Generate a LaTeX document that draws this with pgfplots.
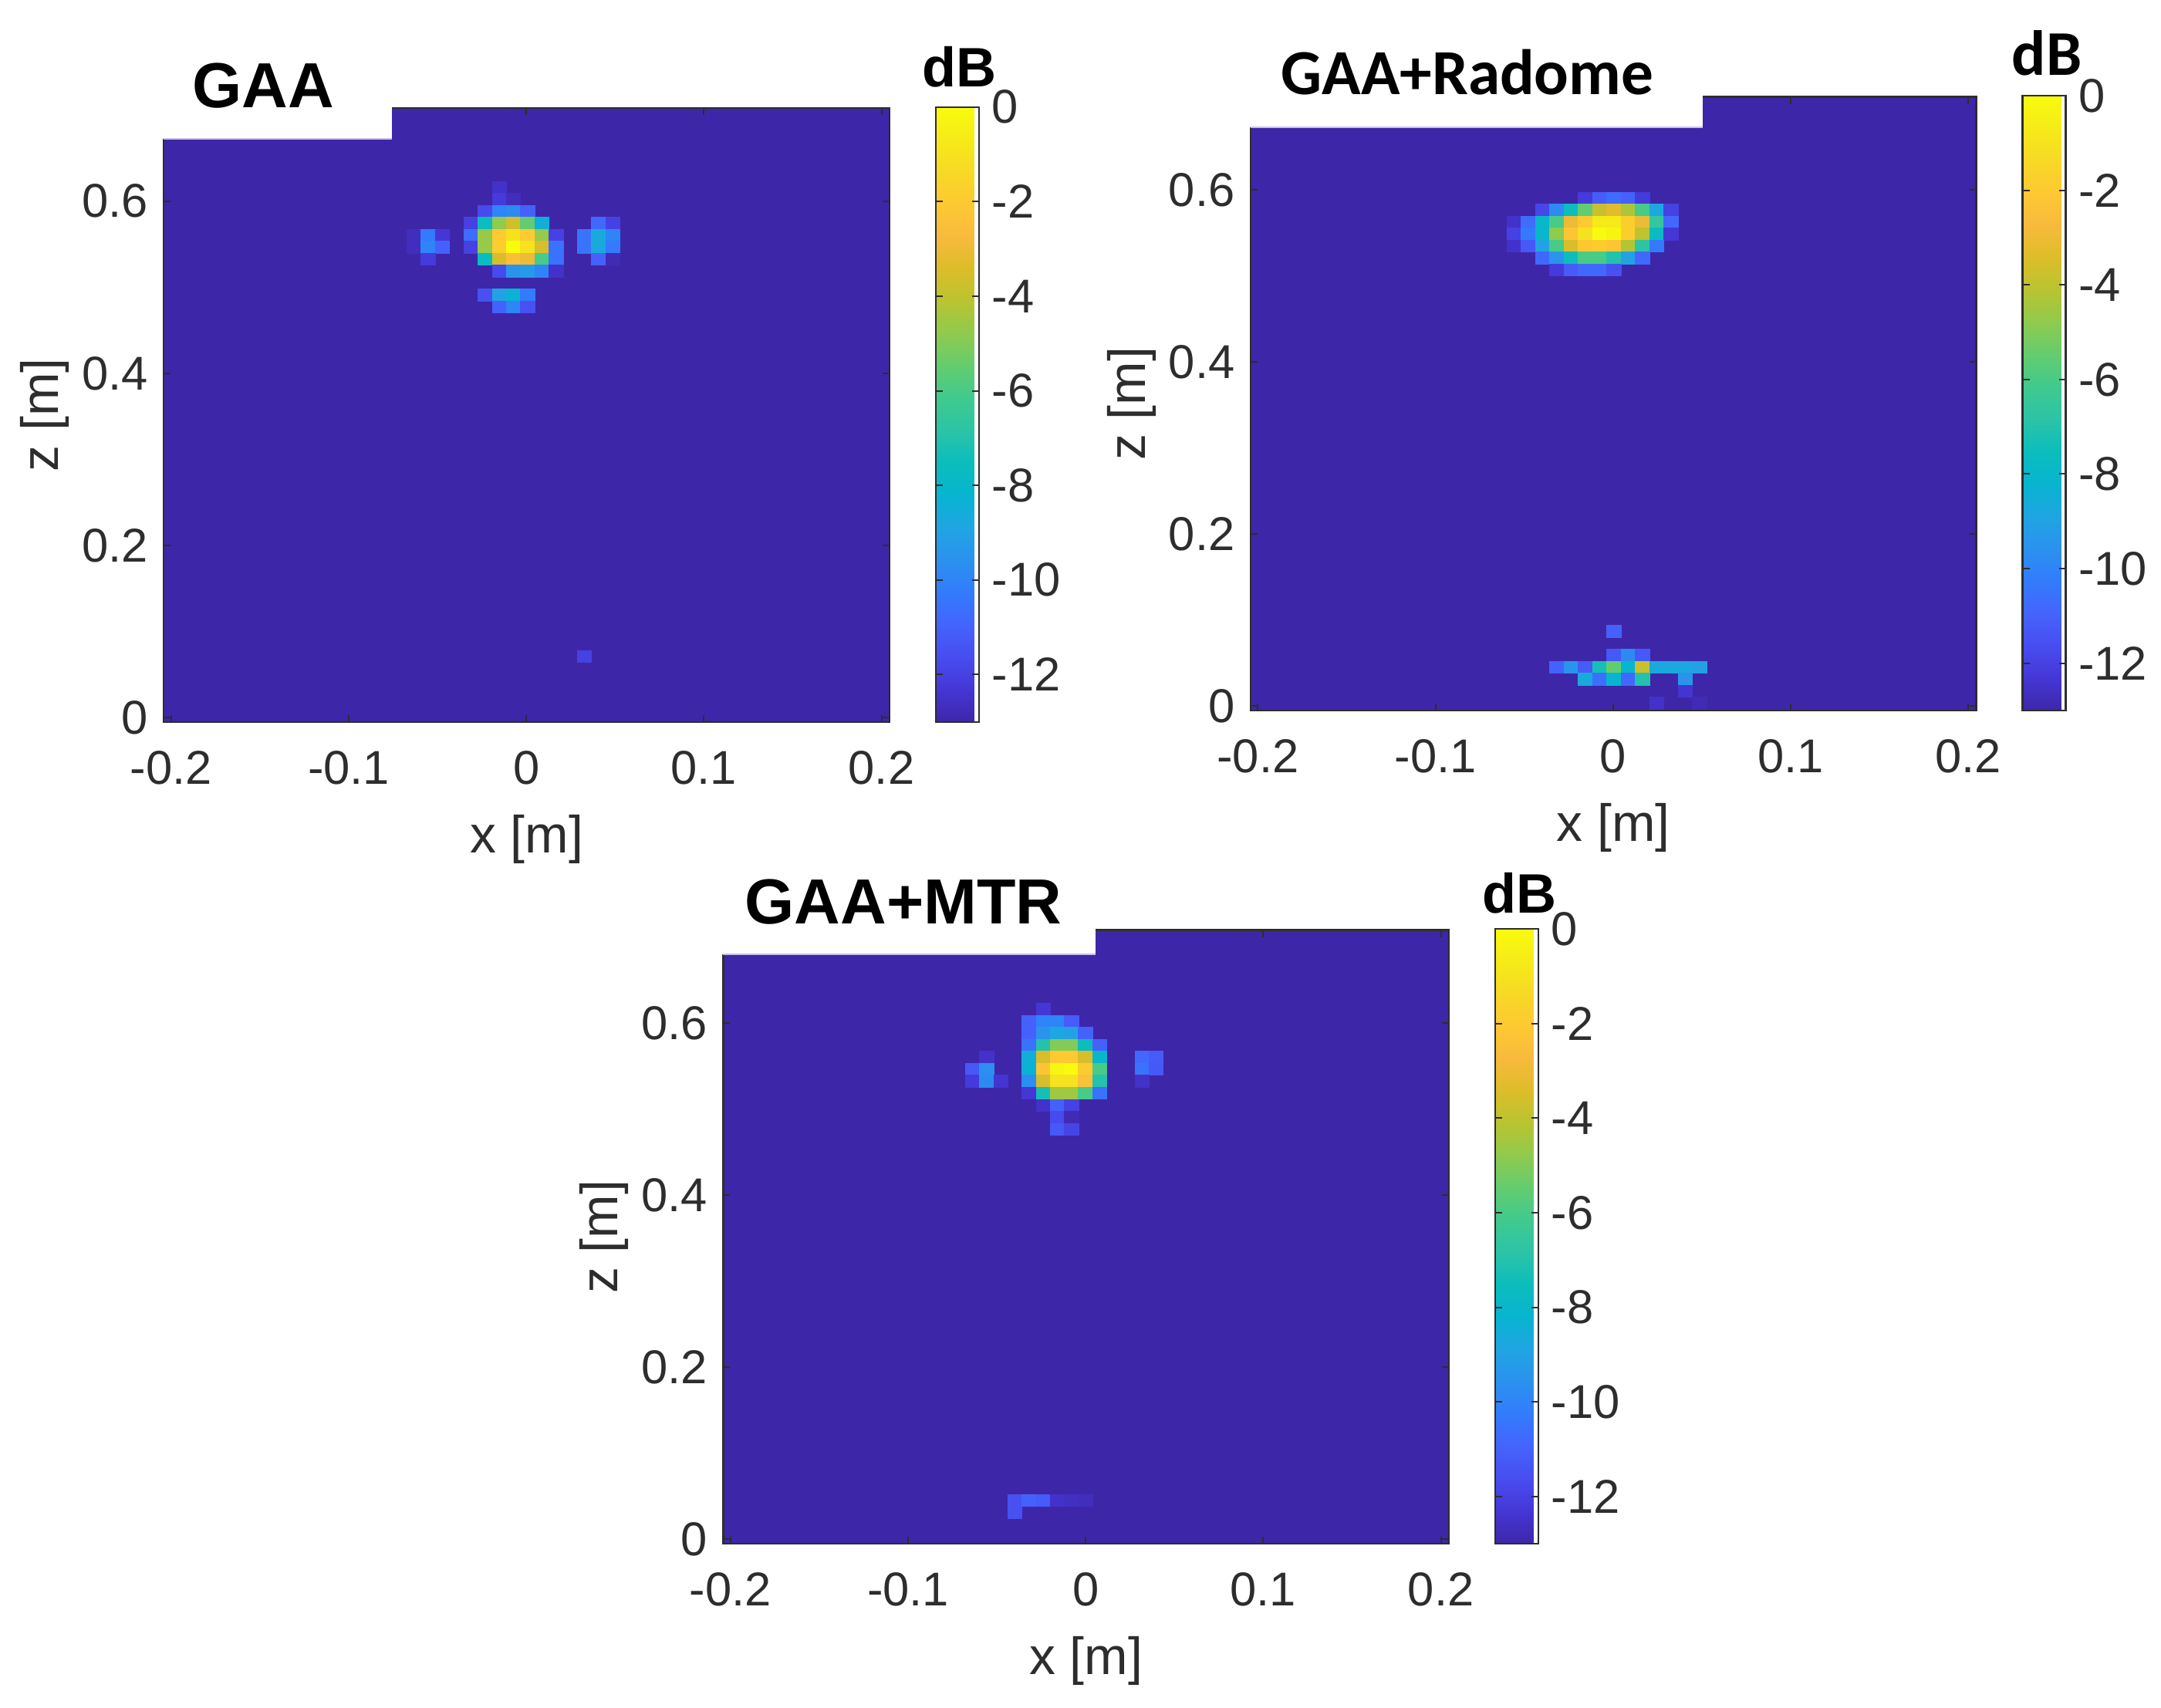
\documentclass[border=0pt]{standalone}
\usepackage{pgfplots}
\usepackage{fontspec}
\pgfplotsset{compat=1.18}
\setmainfont{Liberation Sans}
\newfontfamily\carlito{Carlito}

\definecolor{bgdb}{rgb}{0.2422,0.1504,0.6603}
\definecolor{txt}{RGB}{45,45,45}
\definecolor{lav}{RGB}{200,192,232}

\pgfplotsset{
  /pgf/number format/assume math mode=true,
  colormap={parula}{
    rgb=(0.2422,0.1504,0.6603) rgb=(0.2706,0.2147,0.8364) rgb=(0.2813,0.3006,0.9414)
    rgb=(0.2699,0.3892,0.9906) rgb=(0.1963,0.4847,0.9892) rgb=(0.1687,0.5703,0.9359)
    rgb=(0.1248,0.6459,0.8883) rgb=(0.0297,0.7082,0.8163) rgb=(0.0433,0.7411,0.7394)
    rgb=(0.1717,0.7670,0.6554) rgb=(0.2470,0.7918,0.5567) rgb=(0.3909,0.8029,0.4354)
    rgb=(0.5616,0.7942,0.3045) rgb=(0.7242,0.7698,0.1910) rgb=(0.8634,0.7406,0.1596)
    rgb=(0.9728,0.7298,0.2394) rgb=(0.9952,0.7861,0.1967) rgb=(0.9676,0.8507,0.1477)
    rgb=(0.9628,0.9204,0.0948) rgb=(0.9763,0.9831,0.0538)
  },
  every tick label/.append style={font=\fontsize{17.5}{20}\selectfont, color=txt, inner sep=0pt},
  panel/.style={
    scale only axis, width=94.05mm, height=79.55mm, anchor=south west,
    xmin=-0.2041, xmax=0.2045, ymin=-0.005, ymax=0.708,
    xtick={-0.2,-0.1,0,0.1,0.2}, ytick={0,0.2,0.4,0.6},
    scaled ticks=false,
    tick align=inside, major tick length=0.9mm,
    tick style={color=txt, line width=0.2mm},
    axis line style={color=txt, line width=0.22mm},
    axis background/.style={fill=bgdb},
    axis on top,
    xticklabel style={yshift=-3.7mm},
    yticklabel style={xshift=-2mm},
    xlabel={x [m]}, ylabel={z [m]},
    every axis x label/.style={at={(axis description cs:0.5,0)}, anchor=center, yshift=-15.2mm,
      font=\fontsize{19.3}{22}\selectfont, color=txt},
    every axis y label/.style={at={(axis description cs:0,0.5)}, rotate=90, anchor=center, yshift=15.4mm,
      font=\fontsize{19.3}{22}\selectfont, color=txt},
    point meta min=-13, point meta max=0,
    colorbar,
    colorbar style={
      at={(parent axis.south east)}, anchor=south west, xshift=3mm,
      scale only axis, width=5.6mm, height=79.7mm,
      xmin=0, xmax=1, enlargelimits=false,
      ytick={-12,-10,-8,-6,-4,-2,0},
      tick align=inside, major tick length=0.9mm,
      tick style={color=txt, line width=0.2mm},
      axis line style={color=txt, line width=0.22mm},
      axis on top,
      yticklabel style={xshift=1.6mm},
    },
  },
  heatcells/.style={
    scatter, only marks, mark=square*, mark size=2.62pt,
    mark options={xscale=1, yscale=0.842, line width=0.05pt},
    scatter src=explicit,
    scatter/use mapped color={draw=mapped color, fill=mapped color},
  },
}

\begin{document}
\begin{tikzpicture}
\path[use as bounding box] (0,0) rectangle (280.1mm,-221.3mm);

% cells above the -13 dB floor: column i, row j (downwards), level in dB
% GAA
\begin{axis}[panel, at={(21.24mm,-93.57mm)}]
\addplot[heatcells] table[row sep=\\, meta=db, x expr={-0.06337+0.0080*\thisrow{i}}, y expr={0.61637-0.0139*\thisrow{j}}] {
i j db\\
6 0 -12.5\\
6 1 -12.2\\ 7 1 -12.7\\
5 2 -11.7\\ 6 2 -10\\ 7 2 -9.8\\ 8 2 -11\\
4 3 -12\\ 5 3 -7.5\\ 6 3 -4.8\\ 7 3 -3.7\\ 8 3 -5.5\\ 9 3 -8.5\\ 13 3 -10.8\\ 14 3 -12\\
0 4 -12.7\\ 1 4 -10.3\\ 2 4 -12.3\\ 4 4 -10.7\\ 5 4 -4.7\\ 6 4 -2\\ 7 4 -1\\ 8 4 -2\\ 9 4 -4.7\\ 10 4 -12\\ 12 4 -10.5\\ 13 4 -8.7\\ 14 4 -10\\
0 5 -12.7\\ 1 5 -10\\ 2 5 -11\\ 4 5 -12\\ 5 5 -4.7\\ 6 5 -1.8\\ 7 5 0\\ 8 5 -1\\ 9 5 -3.5\\ 10 5 -10.5\\ 12 5 -10.5\\ 13 5 -8.7\\ 14 5 -10.3\\
1 6 -12.2\\ 5 6 -7.7\\ 6 6 -3.5\\ 7 6 -2.5\\ 8 6 -3\\ 9 6 -6\\ 10 6 -10.5\\ 13 6 -11\\ 14 6 -12.8\\
6 7 -11.7\\ 7 7 -9.5\\ 8 7 -9.3\\ 9 7 -10\\ 10 7 -12.5\\
5 9 -11.5\\ 6 9 -9\\ 7 9 -8.3\\ 8 9 -10.3\\
6 10 -11\\ 7 10 -10\\ 8 10 -11.5\\
12 39.2 -12\\
};
\end{axis}
\fill[white] (20.5mm,-13mm) rectangle (50.8mm,-18mm);
\draw[lav, line width=0.2mm] (21.2mm,-17.95mm) -- (50.8mm,-17.95mm);
\node[anchor=base, font=\bfseries\fontsize{23.5}{28}\selectfont] at (34.1mm,-13.9mm) {GAA};
\node[anchor=base, font=\bfseries\fontsize{20.5}{24}\selectfont] at (124.3mm,-11.2mm) {dB};

% GAA+Radome
\begin{axis}[panel, at={(162.1mm,-92.1mm)}]
\addplot[heatcells] table[row sep=\\, meta=db, x expr={-0.05587+0.00803*\thisrow{i}}, y expr={0.5904-0.01388*\thisrow{j}}] {
i j db\\
5 0 -12.2\\ 6 0 -11.2\\ 7 0 -10.7\\ 8 0 -11\\ 9 0 -12.2\\
2 1 -11.8\\ 3 1 -9.8\\ 4 1 -7.5\\ 5 1 -5.5\\ 6 1 -3.8\\ 7 1 -3.3\\ 8 1 -4.3\\ 9 1 -6\\ 10 1 -8.8\\ 11 1 -12\\
0 2 -12.5\\ 1 2 -10.7\\ 2 2 -8\\ 3 2 -6\\ 4 2 -3\\ 5 2 -2\\ 6 2 -0.7\\ 7 2 -0.7\\ 8 2 -1.8\\ 9 2 -3\\ 10 2 -6.5\\ 11 2 -10.8\\
0 3 -12\\ 1 3 -10.3\\ 2 3 -8\\ 3 3 -4.8\\ 4 3 -2.2\\ 5 3 -1\\ 6 3 0\\ 7 3 -0.3\\ 8 3 -1.8\\ 9 3 -4\\ 10 3 -7.7\\ 11 3 -12.3\\
0 4 -12.5\\ 1 4 -11.3\\ 2 4 -9\\ 3 4 -6\\ 4 4 -3.5\\ 5 4 -2.1\\ 6 4 -1.9\\ 7 4 -2.2\\ 8 4 -4.2\\ 9 4 -6.8\\ 10 4 -10.3\\
2 5 -10.8\\ 3 5 -9.5\\ 4 5 -7.5\\ 5 5 -6\\ 6 5 -6\\ 7 5 -7\\ 8 5 -9\\ 9 5 -10.8\\
3 6 -12.2\\ 4 6 -11.2\\ 5 6 -10.8\\ 6 6 -10.8\\ 7 6 -11.5\\
7 36.25 -11\\
7 38.25 -11.3\\ 8 38.25 -9.8\\ 9 38.25 -11.3\\
3 39.25 -11\\ 4 39.25 -9.5\\ 5 39.25 -11.2\\ 6 39.25 -7.3\\ 7 39.25 -5.5\\ 8 39.25 -8.2\\ 9 39.25 -3.8\\ 10 39.25 -8.7\\ 11 39.25 -8.7\\ 12 39.25 -8.8\\ 13 39.25 -9\\
5 40.25 -8.7\\ 6 40.25 -10.6\\ 7 40.25 -8.2\\ 8 40.25 -10.8\\ 9 40.25 -7\\ 12 40.25 -9.5\\
12 41.25 -12.4\\
10 42.25 -12.5\\ 13 42.25 -12.8\\
};
\end{axis}
\fill[white] (161.4mm,-11.8mm) rectangle (220.7mm,-16.5mm);
\draw[lav, line width=0.2mm] (162.1mm,-16.45mm) -- (220.7mm,-16.45mm);
\node[anchor=base, font=\carlito\bfseries\fontsize{23.7}{28}\selectfont] at (190.2mm,-12.2mm) {GAA+Radome};
\node[anchor=base, font=\carlito\bfseries\fontsize{23.5}{28}\selectfont] at (265.3mm,-9.7mm) {dB};

% GAA+MTR
\begin{axis}[panel, at={(93.74mm,-200.1mm)}]
\addplot[heatcells] table[row sep=\\, meta=db, x expr={-0.06373+0.00794*\thisrow{i}}, y expr={0.6163-0.01395*\thisrow{j}}] {
i j db\\
5 0 -12.3\\
4 1 -11\\ 5 1 -10\\ 6 1 -10\\ 7 1 -11.2\\
4 2 -11\\ 5 2 -9.5\\ 6 2 -8.8\\ 7 2 -9\\ 8 2 -11\\
4 3 -10.5\\ 5 3 -7\\ 6 3 -5\\ 7 3 -5\\ 8 3 -7.5\\ 9 3 -11\\
1 4 -12.5\\ 4 4 -8.5\\ 5 4 -3.5\\ 6 4 -2\\ 7 4 -2\\ 8 4 -3.5\\ 9 4 -8\\ 12 4 -10.8\\ 13 4 -11.2\\
0 5 -11.3\\ 1 5 -9.7\\ 4 5 -8.3\\ 5 5 -2.2\\ 6 5 -0.2\\ 7 5 0\\ 8 5 -1.9\\ 9 5 -6\\ 12 5 -10.5\\ 13 5 -11.3\\
0 6 -12.2\\ 1 6 -9.8\\ 2 6 -12.4\\ 4 6 -9.7\\ 5 6 -3.5\\ 6 6 -1\\ 7 6 -1\\ 8 6 -2.4\\ 9 6 -7\\ 12 6 -12.5\\
4 7 -12.3\\ 5 7 -7.3\\ 6 7 -4.5\\ 7 7 -4.5\\ 8 7 -6\\ 9 7 -10.5\\
5 8 -12.5\\ 6 8 -11\\ 7 8 -12\\
6 9 -11.7\\ 7 9 -12.8\\
6 10 -11.3\\ 7 10 -11.9\\
3 40.9 -11.5\\ 4 40.9 -11\\ 5 40.9 -11.2\\ 6 40.9 -12.5\\ 7 40.9 -12.6\\ 8 40.9 -12.7\\
3 41.9 -11.5\\
};
\end{axis}
\fill[white] (93mm,-120mm) rectangle (142mm,-123.7mm);
\draw[lav, line width=0.2mm] (93.74mm,-123.65mm) -- (142mm,-123.65mm);
\node[anchor=base, font=\bfseries\fontsize{23.5}{28}\selectfont] at (117.1mm,-119.7mm) {GAA+MTR};
\node[anchor=base, font=\bfseries\fontsize{20.5}{24}\selectfont] at (196.9mm,-118.3mm) {dB};
\end{tikzpicture}
\end{document}
